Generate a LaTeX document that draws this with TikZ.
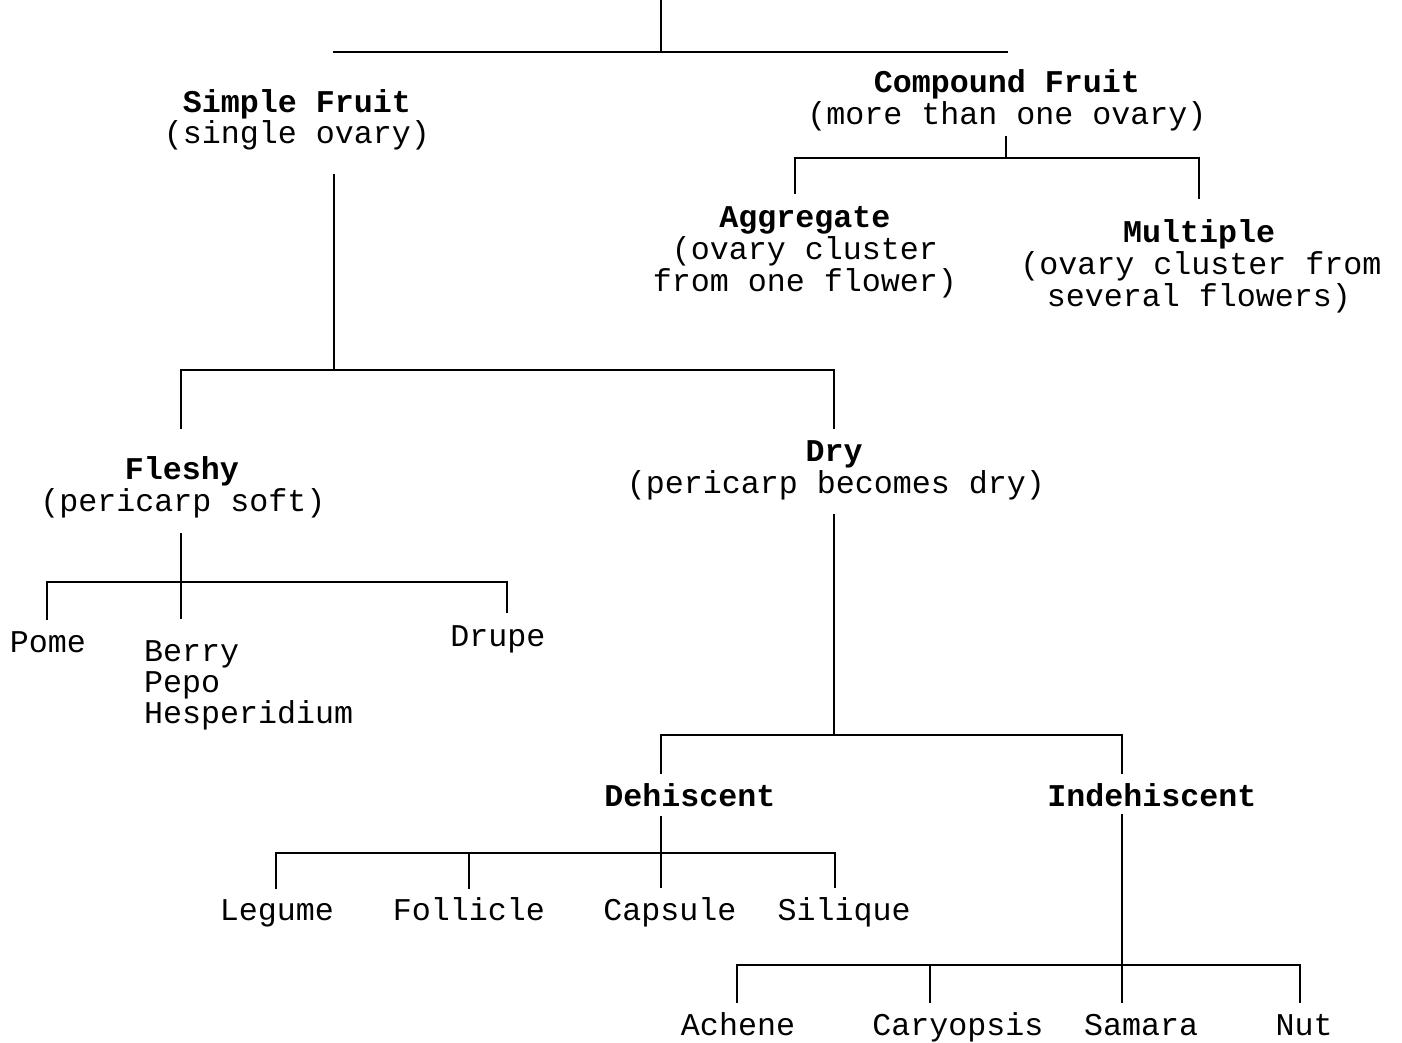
\documentclass[tikz,border=0pt]{standalone}
\usepackage{fontspec}
\setmainfont{Liberation Mono}
\begin{document}
\begin{tikzpicture}[x=0.75pt,y=-0.75pt,
  lbl/.style={inner sep=0pt,outer sep=0pt,anchor=base,font=\fontsize{23.75pt}{28pt}\selectfont},
  hd/.style={lbl,font=\fontsize{23.75pt}{28pt}\selectfont\bfseries},
  ln/.style={line width=1.5pt,line cap=rect}]
\useasboundingbox (0,0) rectangle (1402,1042);
% ---------- text ----------
\node[hd]  (sf)  at (297,112) {Simple Fruit};
\node[lbl] (sf2) at (297,143) {(single ovary)};
\node[hd]  (cf)  at (1007,92) {Compound Fruit};
\node[lbl] (cf2) at (1007,124) {(more than one ovary)};
\node[hd]  (ag)  at (805,227) {Aggregate};
\node[lbl] (ag2) at (805,259) {(ovary cluster};
\node[lbl] (ag3) at (805,291) {from one flower)};
\node[hd]  (mu)  at (1199,242) {Multiple};
\node[lbl] (mu2) at (1201,274) {(ovary cluster from};
\node[lbl] (mu3) at (1199,306) {several flowers)};
\node[hd]  (fl)  at (182,479) {Fleshy};
\node[lbl] (fl2) at (183,511) {(pericarp soft)};
\node[hd]  (dr)  at (834,461) {Dry};
\node[lbl] (dr2) at (836,493) {(pericarp becomes dry)};
\node[lbl] (po)  at (48,652) {Pome};
\node[lbl,anchor=base west] (be) at (144,661) {Berry};
\node[lbl,anchor=base west] (pe) at (144,692) {Pepo};
\node[lbl,anchor=base west] (he) at (144,723) {Hesperidium};
\node[lbl] (du)  at (498,646) {Drupe};
\node[hd]  (de)  at (690,806) {Dehiscent};
\node[hd]  (in)  at (1152,806) {Indehiscent};
\node[lbl] (le)  at (277,920) {Legume};
\node[lbl] (fo)  at (469,920) {Follicle};
\node[lbl] (ca)  at (670,920) {Capsule};
\node[lbl] (si)  at (844,920) {Silique};
\node[lbl] (ac)  at (738,1035) {Achene};
\node[lbl] (cy)  at (958,1035) {Caryopsis};
\node[lbl] (sa)  at (1141,1035) {Samara};
\node[lbl] (nu)  at (1304,1035) {Nut};
% ---------- connector points ----------
\coordinate (t0) at (661,0);
\coordinate (t1) at (661,52);
\coordinate (tl) at (334,52);
\coordinate (tr) at (1007,52);
% compound
\coordinate (c0) at (1006,137);
\coordinate (c1) at (1006,158);
\coordinate (cl) at (795,158);
\coordinate (cr) at (1199,158);
\coordinate (cla) at (795,193);
\coordinate (crm) at (1199,198);
% simple
\coordinate (s0) at (334,175);
\coordinate (s1) at (334,370);
\coordinate (sl) at (181,370);
\coordinate (sr) at (834,370);
\coordinate (slf) at (181,428);
\coordinate (srd) at (834,428);
% fleshy
\coordinate (f0) at (181,534);
\coordinate (f1) at (181,618);
\coordinate (fh) at (181,582);
\coordinate (fl1) at (47,582);
\coordinate (fr1) at (507,582);
\coordinate (fpo) at (47,619);
\coordinate (fdu) at (507,612);
% dry
\coordinate (d0) at (834,515);
\coordinate (d1) at (834,735);
\coordinate (dl) at (661,735);
\coordinate (dr1) at (1122,735);
\coordinate (dde) at (661,773);
\coordinate (din) at (1122,773);
% dehiscent
\coordinate (e0) at (661,817);
\coordinate (e1) at (661,887);
\coordinate (el) at (276,853);
\coordinate (er) at (835,853);
\coordinate (ele) at (276,888);
\coordinate (efo0) at (469,853);
\coordinate (efo) at (469,888);
\coordinate (esi) at (835,887);
% indehiscent
\coordinate (i0) at (1122,815);
\coordinate (i1) at (1122,1002);
\coordinate (il) at (737,965);
\coordinate (ir) at (1300,965);
\coordinate (iac) at (737,1002);
\coordinate (icy0) at (930,965);
\coordinate (icy) at (930,1002);
\coordinate (inu) at (1300,1002);
% ---------- connectors ----------
\draw[ln] (t0) -- (t1);
\draw[ln] (tl) -- (tr);
\draw[ln] (c0) -- (c1);
\draw[ln] (cl) -- (cr);
\draw[ln] (cl) -- (cla);
\draw[ln] (cr) -- (crm);
\draw[ln] (s0) -- (s1);
\draw[ln] (sl) -- (sr);
\draw[ln] (sl) -- (slf);
\draw[ln] (sr) -- (srd);
\draw[ln] (f0) -- (f1);
\draw[ln] (fl1) -- (fr1);
\draw[ln] (fl1) -- (fpo);
\draw[ln] (fr1) -- (fdu);
\draw[ln] (d0) -- (d1);
\draw[ln] (dl) -- (dr1);
\draw[ln] (dl) -- (dde);
\draw[ln] (dr1) -- (din);
\draw[ln] (e0) -- (e1);
\draw[ln] (el) -- (er);
\draw[ln] (el) -- (ele);
\draw[ln] (efo0) -- (efo);
\draw[ln] (er) -- (esi);
\draw[ln] (i0) -- (i1);
\draw[ln] (il) -- (ir);
\draw[ln] (il) -- (iac);
\draw[ln] (icy0) -- (icy);
\draw[ln] (ir) -- (inu);
\end{tikzpicture}
\end{document}
